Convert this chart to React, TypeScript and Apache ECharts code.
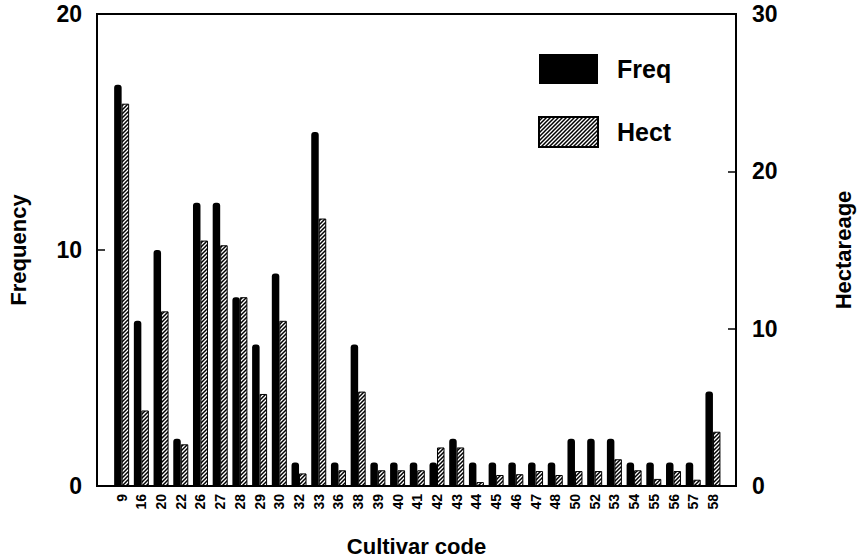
import React, { useEffect, useRef } from "react";
import * as echarts from "echarts";

// Cultivar codes along the x axis
const codes = ["9", "16", "20", "22", "26", "27", "28", "29", "30", "32", "33", "36", "38", "39", "40", "41", "42", "43", "44", "45", "46", "47", "48", "50", "52", "53", "54", "55", "56", "57", "58"];
// Number of farms growing each cultivar (left axis)
const freq = [17, 7, 10, 2, 12, 12, 8, 6, 9, 1, 15, 1, 6, 1, 1, 1, 1, 2, 1, 1, 1, 1, 1, 2, 2, 2, 1, 1, 1, 1, 4];
// Area planted to each cultivar, hectares (right axis)
const hect = [24.3, 4.8, 11.1, 2.65, 15.6, 15.3, 12.0, 5.85, 10.5, 0.8, 17.0, 1.0, 6.0, 1.0, 1.0, 1.0, 2.45, 2.45, 0.25, 0.7, 0.75, 0.95, 0.7, 0.95, 0.95, 1.7, 1.0, 0.45, 0.95, 0.4, 3.45];
const leftTicks = [0, 10, 20];
const rightTicks = [0, 10, 20, 30];

const FONT = "'Liberation Sans', Arial, Helvetica, sans-serif";

// Small tile of /// diagonal strokes used to shade the hectare bars
function makeHatch(): HTMLCanvasElement {
  const c = document.createElement("canvas");
  c.width = 4;
  c.height = 4;
  const g = c.getContext("2d")!;
  g.fillStyle = "#fff";
  g.fillRect(0, 0, 4, 4);
  g.strokeStyle = "#000";
  g.lineWidth = 1.5;
  g.beginPath();
  g.moveTo(-1, 5);
  g.lineTo(5, -1);
  g.moveTo(-1, 1);
  g.lineTo(1, -1);
  g.moveTo(3, 5);
  g.lineTo(5, 3);
  g.stroke();
  return c;
}

export default function App() {
  const ref = useRef<HTMLDivElement>(null);

  useEffect(() => {
    if (!ref.current) return;
    const chart = echarts.init(ref.current, null, { renderer: "svg" });
    const hatch = makeHatch();
    const idx = codes.map((_, i) => i);

    const yName = { fontFamily: FONT, fontSize: 22, fontWeight: "bold", color: "#000" };
    const yLabel = { fontFamily: FONT, fontSize: 23, fontWeight: "bold", color: "#000" };

    chart.setOption({
      animation: false,
      backgroundColor: "#fff",
      textStyle: { fontFamily: FONT, color: "#000" },
      grid: {
        left: 97,
        right: 125,
        top: 14,
        bottom: 71,
        outerBoundsMode: "none",
        containLabel: false,
        show: true,
        borderColor: "#000",
        borderWidth: 2,
        backgroundColor: "transparent",
      },
      legend: {
        orient: "vertical",
        left: 533,
        top: 49,
        itemWidth: 59,
        itemHeight: 30,
        itemGap: 32,
        icon: "rect",
        textStyle: {
          fontFamily: FONT,
          fontSize: 25,
          fontWeight: "bold",
          color: "#000",
          padding: [0, 0, 0, 14],
        },
        data: ["Freq", "Hect"],
      },
      xAxis: {
        type: "value",
        min: -1.25,
        max: 31.17,
        name: "Cultivar code",
        nameLocation: "middle",
        nameGap: 49,
        nameTextStyle: { fontFamily: FONT, fontSize: 22, fontWeight: "bold", color: "#000" },
        axisLine: { show: true, onZero: false, lineStyle: { color: "#000", width: 2 } },
        axisTick: { show: false },
        splitLine: { show: false },
        axisLabel: {
          customValues: idx,
          formatter: (v: number) => codes[Math.round(v)] ?? "",
          rotate: 90,
          margin: 8,
          fontFamily: FONT,
          fontSize: 14,
          fontWeight: "bold",
          color: "#000",
        },
      },
      yAxis: [
        {
          type: "value",
          min: 0,
          max: 20,
          position: "left",
          name: "Frequency",
          nameLocation: "middle",
          nameRotate: 90,
          nameGap: 68,
          nameTextStyle: yName,
          axisLine: { show: true, onZero: false, lineStyle: { color: "#000", width: 2 } },
          axisTick: { show: true, inside: true, length: 8, customValues: leftTicks, lineStyle: { color: "#000", width: 1.5 } },
          splitLine: { show: false },
          axisLabel: { customValues: leftTicks, margin: 15, ...yLabel },
        },
        {
          type: "value",
          min: 0,
          max: 30,
          position: "right",
          name: "Hectareage",
          nameLocation: "middle",
          nameRotate: 90,
          nameGap: 96,
          nameTextStyle: yName,
          axisLine: { show: true, onZero: false, lineStyle: { color: "#000", width: 2 } },
          axisTick: { show: true, inside: true, length: 8, customValues: rightTicks, lineStyle: { color: "#000", width: 1.5 } },
          splitLine: { show: false },
          axisLabel: { customValues: rightTicks, margin: 16, ...yLabel },
        },
      ],
      series: [
        {
          name: "Freq",
          type: "bar",
          yAxisIndex: 0,
          barWidth: 7.5,
          barGap: "0%",
          itemStyle: { color: "#000", borderRadius: [3, 3, 0, 0] },
          data: idx.map((i) => [i, freq[i]]),
        },
        {
          name: "Hect",
          type: "bar",
          yAxisIndex: 1,
          barWidth: 7.5,
          barGap: "0%",
          itemStyle: {
            color: { image: hatch, repeat: "repeat" },
            borderColor: "#000",
            borderWidth: 1,
          },
          data: idx.map((i) => [i, hect[i]]),
        },
      ],
    });

    return () => chart.dispose();
  }, []);

  return (
    <div
      ref={ref}
      style={{ position: "fixed", left: 0, top: 0, width: 861, height: 557, background: "#fff" }}
    />
  );
}
